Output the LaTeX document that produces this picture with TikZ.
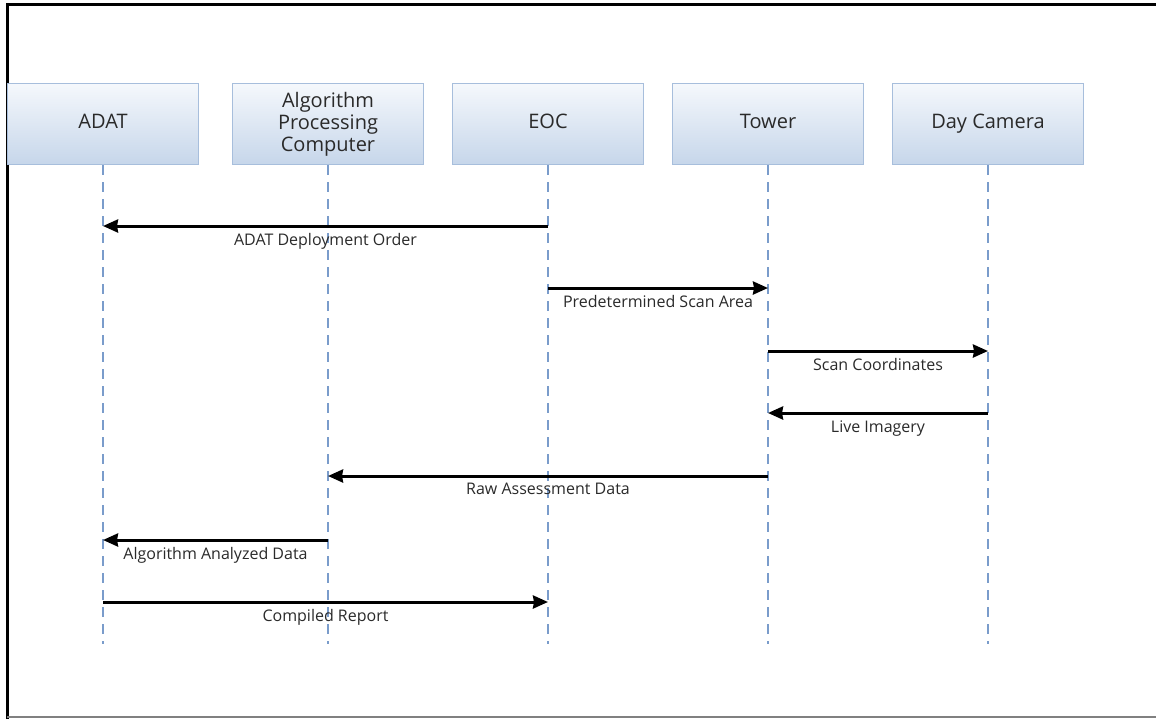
\documentclass[tikz,border=0pt]{standalone}
\usepackage{fontspec}
\setmainfont{Open Sans}
\usepackage{tikz}
\usetikzlibrary{shapes}
\usetikzlibrary{arrows.meta}

\definecolor{boxTop}{HTML}{F5F8FC}
\definecolor{boxBottom}{HTML}{C6D6EA}
\definecolor{boxLine}{HTML}{A7BEDC}
\definecolor{lifeBlue}{HTML}{7A9CCB}
\definecolor{textGray}{HTML}{2A2A2A}

\begin{document}
\begin{tikzpicture}
[x=0.5pt,y=-0.5pt,
  actorDecorate/.style={shape=rectangle,draw=boxLine,line width=0.6pt,
    top color=boxTop,bottom color=boxBottom,
    minimum width=95.5pt,minimum height=40.5pt,inner sep=0pt,
    align=center,text=textGray,text depth=0.25em,
    font=\fontsize{10}{11}\selectfont},
  lifeDecorate/.style={draw=lifeBlue,line width=1.1pt,dash pattern=on 5pt off 3.5pt},
  msgDecorate/.style={->,>={Stealth[length=7.5pt,width=6.5pt,inset=0.5pt]},
    line width=1.5pt,black},
  msgLabel/.style={below=2pt,inner sep=1pt,text=textGray,
    font=\fontsize{8}{9}\selectfont}]
\useasboundingbox (0,0) rectangle (1156,719);
%%
%% frame
\draw[line width=1.5pt] (7,719) -- (7,4.5) -- (1170,4.5);
\draw[gray,line width=0.8pt] (7,717) -- (1170,717);
%%
%%%%%%%%%%%%%%%%%%%%%%%%%%%%%%%%%%%%%%%%%%%%%%%%%%%%%%%%%%%%%%%%%%%%%%%%%%%
%%
%% participants and lifelines
\foreach \nodename/\x/\txt in {
  adat/103/ADAT, apc/328/{Algorithm\\Processing\\Computer},
  eoc/548/EOC, tower/768/Tower, cam/988/Day Camera}
{
  \node (\nodename) at (\x,124) [actorDecorate] {\txt};
  \coordinate (\nodename end) at (\x,644);
  \draw[lifeDecorate] (\nodename.south) -- (\nodename end);
}
%%
%%%%%%%%%%%%%%%%%%%%%%%%%%%%%%%%%%%%%%%%%%%%%%%%%%%%%%%%%%%%%%%%%%%%%%%%%%%
%%
%% messages
\foreach \startnode/\endnode/\y/\txt in {
  eoc/adat/226/ADAT Deployment Order,
  eoc/tower/288/Predetermined Scan Area,
  tower/cam/351/Scan Coordinates,
  cam/tower/413/Live Imagery,
  tower/apc/476/Raw Assessment Data,
  apc/adat/540/Algorithm Analyzed Data,
  adat/eoc/602/Compiled Report}
{
  \draw[msgDecorate] (\startnode |- 0,\y) -- node[msgLabel] {\txt} (\endnode |- 0,\y);
}
\end{tikzpicture}
\end{document}
